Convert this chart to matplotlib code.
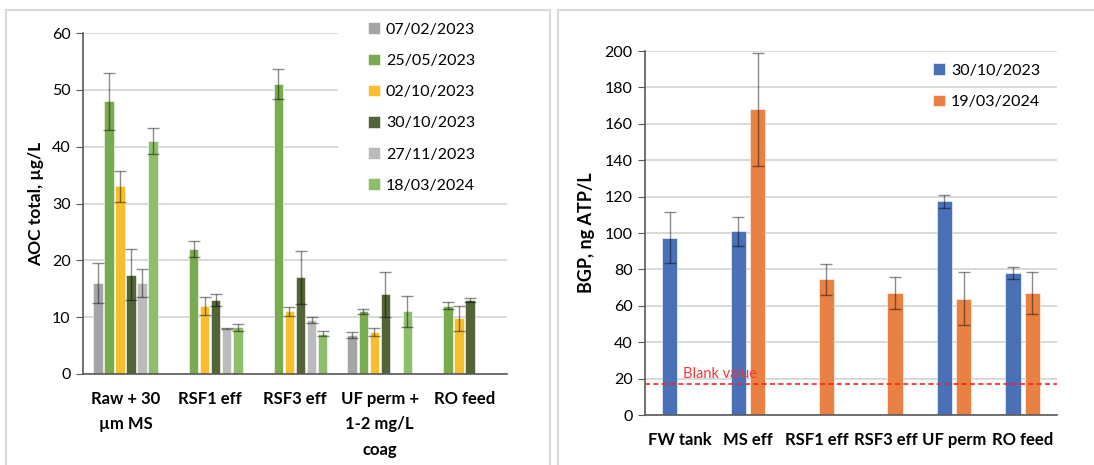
import numpy as np
import matplotlib
matplotlib.use("Agg")
import matplotlib.pyplot as plt
from matplotlib.patches import Rectangle

plt.rcParams['font.family'] = ['Lato', 'DejaVu Sans']

# === LEFT PANEL DATA: AOC ===
aoc_cats = ["Raw + 30\nµm MS", "RSF1 eff", "RSF3 eff", "UF perm +\n1-2 mg/L\ncoag", "RO feed"]
aoc_dates = ["07/02/2023", "25/05/2023", "02/10/2023", "30/10/2023", "27/11/2023", "18/03/2024"]
aoc_colors = ["#A5A5A7", "#79AB51", "#F9BE2E", "#536538", "#BBBBBD", "#8EBD6C"]
aoc_vals = [
    [16, None, None, 6.9, None],
    [48, 22, 51, 11, 12],
    [33, 12, 11, 7.4, 9.8],
    [17.5, 13, 17, 14, 13],
    [16, 8, 9.5, None, None],
    [41, 8.2, 7.1, 11, None],
]
aoc_err = [
    [3.5, None, None, 0.5, None],
    [5, 1.4, 2.6, 0.5, 0.6],
    [2.8, 1.6, 0.8, 0.7, 2.2],
    [4.5, 1.0, 4.7, 4.0, 0.4],
    [2.5, 0.1, 0.6, None, None],
    [2.3, 0.6, 0.5, 2.7, None],
]

# === RIGHT PANEL DATA: BGP ===
bgp_cats = ["FW tank", "MS eff", "RSF1 eff", "RSF3 eff", "UF perm", "RO feed"]
bgp_dates = ["30/10/2023", "19/03/2024"]
bgp_colors = ["#4A70B8", "#E98142"]
bgp_vals = [
    [97.5, 101, None, None, 117.5, 78],
    [None, 168, 74.5, 67, 64, 67],
]
bgp_err = [
    [14, 8, None, None, 3.5, 3.5],
    [None, 31, 8.5, 9, 14.5, 11.5],
]
blank_value = 17


def arr(lst):
    return np.array([np.nan if v is None else v for v in lst], dtype=float)


def style_axis(ax, ymax, step):
    ax.set_ylim(0, ymax)
    ax.set_yticks(np.arange(0, ymax + 1, step))
    ax.grid(axis='y', color='#D9D9D9', lw=1.4)
    ax.set_axisbelow(True)
    for s in ['top', 'right']:
        ax.spines[s].set_visible(False)
    ax.spines['left'].set_color('#595959')
    ax.spines['bottom'].set_color('#595959')
    ax.spines['left'].set_linewidth(1.2)
    ax.spines['bottom'].set_linewidth(1.2)
    ax.tick_params(axis='y', length=5, color='#595959', labelsize=11.5, pad=4)
    ax.tick_params(axis='x', length=0, labelsize=12, pad=12)
    for lbl in ax.get_xticklabels():
        lbl.set_fontweight('bold')


fig = plt.figure(figsize=(10.94, 4.65), dpi=100)

# panel borders
fig.patches.append(Rectangle((6 / 1094, -0.05), 544 / 1094, 1 - 10 / 465 + 0.05,
                             transform=fig.transFigure, fill=False, ec='#D9D9D9', lw=1.5))
fig.patches.append(Rectangle((558 / 1094, -0.05), 0.6, 1 - 10 / 465 + 0.05,
                             transform=fig.transFigure, fill=False, ec='#D9D9D9', lw=1.5))

# === LEFT CHART ===
ax1 = fig.add_axes([0.0759, 0.1957, 0.3875, 0.7333])
x1 = np.arange(len(aoc_cats))
slot = 0.13
width = 0.112
for i, (lab, col) in enumerate(zip(aoc_dates, aoc_colors)):
    pos = x1 + (i - 2.5) * slot
    v = arr(aoc_vals[i])
    e = arr(aoc_err[i])
    m = ~np.isnan(v)
    ax1.bar(pos[m], v[m], width, color=col, label=lab, ec='white', lw=0.4, zorder=2)
    ax1.errorbar(pos[m], v[m], yerr=e[m], fmt='none', ecolor='black', alpha=0.45,
                 elinewidth=1, capsize=4, capthick=1, zorder=3)
ax1.set_xlim(-0.5, len(aoc_cats) - 0.5)
ax1.set_xticks(x1)
ax1.set_xticklabels(aoc_cats, linespacing=1.75, va='top')
style_axis(ax1, 60, 10)
ax1.set_ylabel("AOC total, µg/L", fontsize=12.5, fontweight='bold')
ax1.yaxis.set_label_coords(-0.092, 0.5)
# white box behind legend covering gridlines
ax1.add_patch(Rectangle((338 / 1094, 1 - 198 / 465), 175 / 1094, 172 / 465,
                        transform=fig.transFigure, fc='white', ec='none', zorder=1))
leg1 = ax1.legend(loc='upper left', bbox_to_anchor=(362 / 1094, 1 - 16 / 465),
                  bbox_transform=fig.transFigure, frameon=False, fontsize=11.5,
                  handlelength=0.75, handleheight=0.75, handletextpad=0.35,
                  labelspacing=1.05, borderaxespad=0)

# === RIGHT CHART ===
ax2 = fig.add_axes([0.5896, 0.1075, 0.3766, 0.7828])
x2 = np.arange(len(bgp_cats))
bslot = 0.284
bwidth = 0.225
for i, (lab, col) in enumerate(zip(bgp_dates, bgp_colors)):
    pos = x2 + (i - 0.5) * bslot
    v = arr(bgp_vals[i])
    e = arr(bgp_err[i])
    m = ~np.isnan(v)
    ax2.bar(pos[m], v[m], bwidth, color=col, label=lab, ec='white', lw=0.4, zorder=2)
    ax2.errorbar(pos[m], v[m], yerr=e[m], fmt='none', ecolor='black', alpha=0.45,
                 elinewidth=1, capsize=4, capthick=1, zorder=3)
ax2.set_xlim(-0.5, len(bgp_cats) - 0.5)
ax2.set_xticks(x2)
ax2.set_xticklabels(bgp_cats)
style_axis(ax2, 200, 20)
ax2.set_ylabel("BGP, ng ATP/L", fontsize=13, fontweight='bold')
ax2.yaxis.set_label_coords(-0.122, 0.5)
ax2.axhline(blank_value, color='#FF2020', ls=(0, (3, 2)), lw=1.2, zorder=4)
ax2.text(0.05, blank_value + 1.5, "Blank value", color='#F0383C', fontsize=10.5,
         va='bottom', ha='left', zorder=5)
ax2.legend(loc='upper left', bbox_to_anchor=(927 / 1094, 1 - 57 / 465),
           bbox_transform=fig.transFigure, frameon=False, fontsize=11.5,
           handlelength=0.75, handleheight=0.75, handletextpad=0.35,
           labelspacing=1.05, borderaxespad=0)

fig.savefig("out.png", dpi=100)
